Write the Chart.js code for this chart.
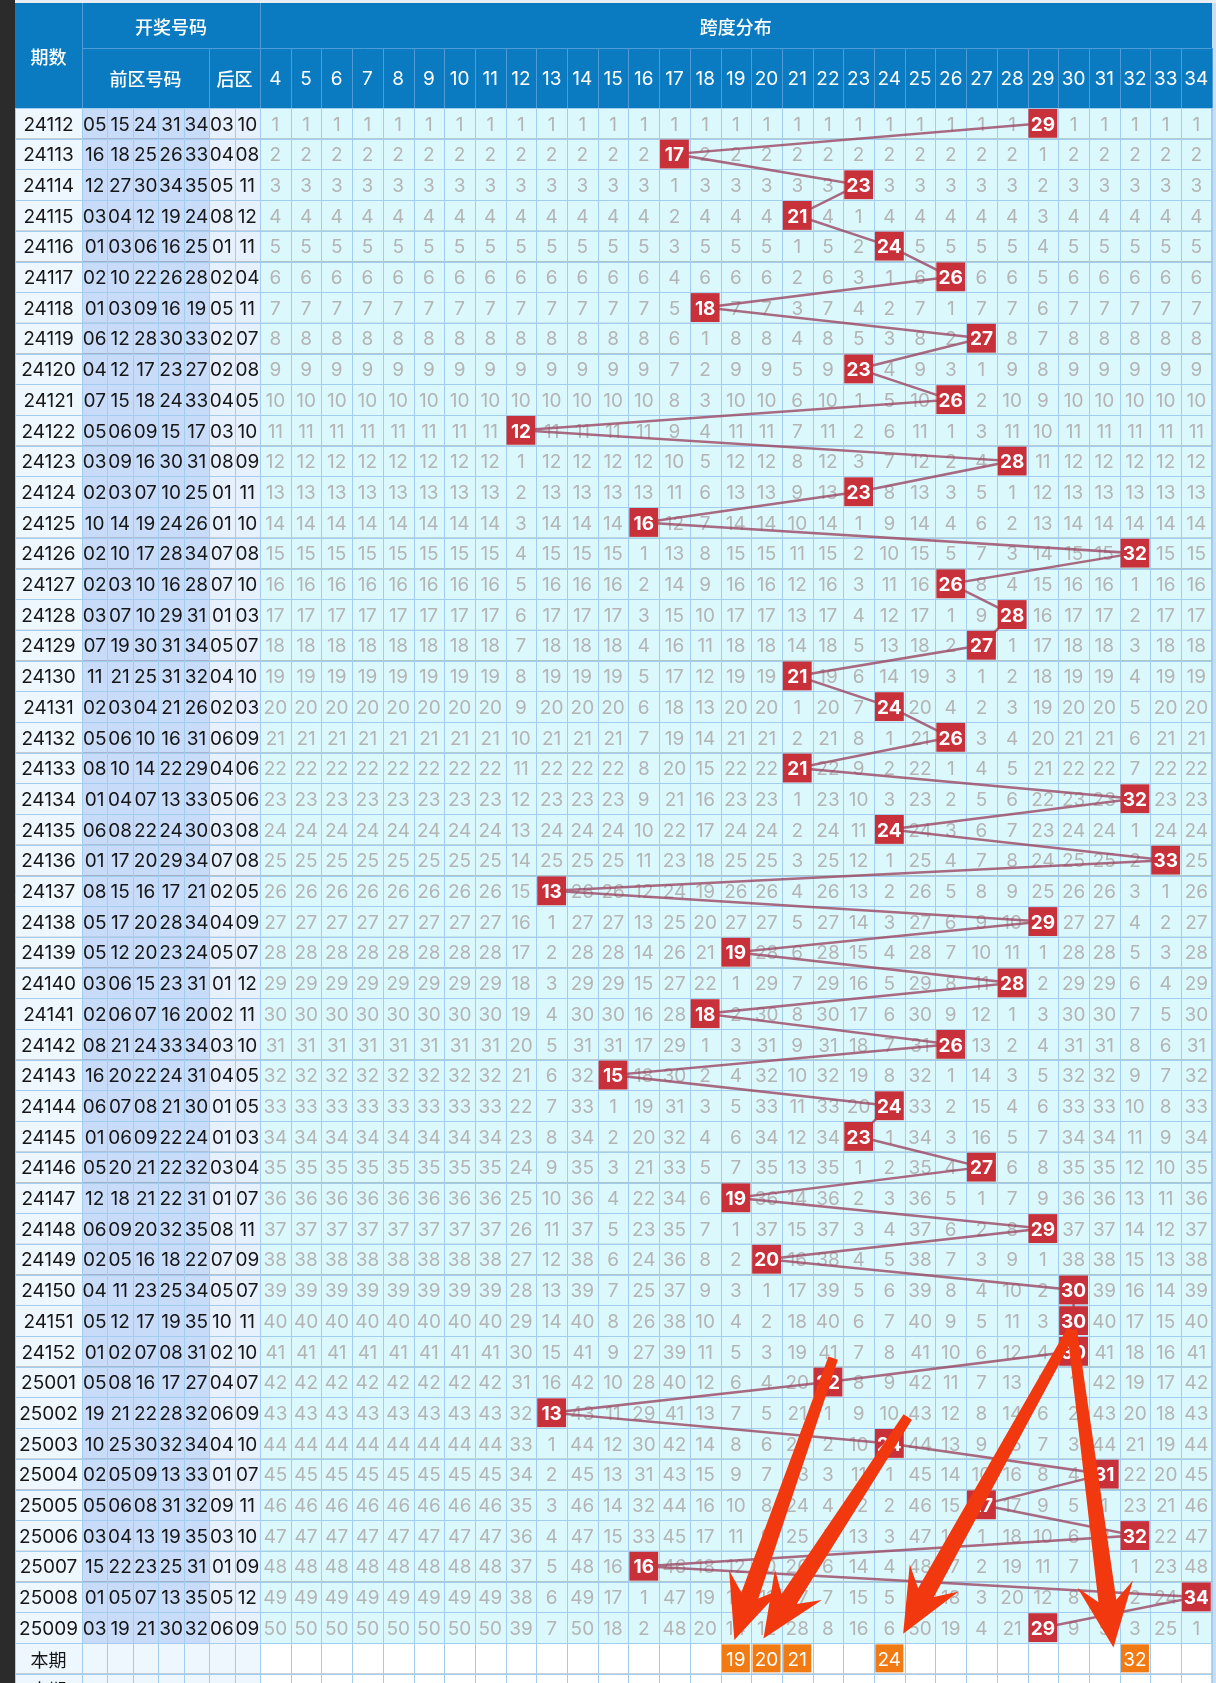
<!DOCTYPE html>
<html>
<head>
<meta charset="utf-8">
<script src="https://cdn.jsdelivr.net/npm/chart.js@4/dist/chart.umd.min.js"></script>
<style>
html, body { margin: 0; padding: 0; background: #2b2b2b; }
#wrap { width: 1216px; height: 1683px; }
</style>
</head>
<body>
<div id="wrap"><canvas id="spanChart" width="1216" height="1683"></canvas></div>
<script>
// 期数
const issues = [
    '24112', '24113', '24114', '24115', '24116', '24117', '24118', '24119', '24120', '24121',
    '24122', '24123', '24124', '24125', '24126', '24127', '24128', '24129', '24130', '24131',
    '24132', '24133', '24134', '24135', '24136', '24137', '24138', '24139', '24140', '24141',
    '24142', '24143', '24144', '24145', '24146', '24147', '24148', '24149', '24150', '24151',
    '24152', '25001', '25002', '25003', '25004', '25005', '25006', '25007', '25008', '25009'
];

// 前区号码
const frontNumbers = [
    [5, 15, 24, 31, 34], [16, 18, 25, 26, 33], [12, 27, 30, 34, 35], [3, 4, 12, 19, 24], [1, 3, 6, 16, 25],
    [2, 10, 22, 26, 28], [1, 3, 9, 16, 19], [6, 12, 28, 30, 33], [4, 12, 17, 23, 27], [7, 15, 18, 24, 33],
    [5, 6, 9, 15, 17], [3, 9, 16, 30, 31], [2, 3, 7, 10, 25], [10, 14, 19, 24, 26], [2, 10, 17, 28, 34],
    [2, 3, 10, 16, 28], [3, 7, 10, 29, 31], [7, 19, 30, 31, 34], [11, 21, 25, 31, 32], [2, 3, 4, 21, 26],
    [5, 6, 10, 16, 31], [8, 10, 14, 22, 29], [1, 4, 7, 13, 33], [6, 8, 22, 24, 30], [1, 17, 20, 29, 34],
    [8, 15, 16, 17, 21], [5, 17, 20, 28, 34], [5, 12, 20, 23, 24], [3, 6, 15, 23, 31], [2, 6, 7, 16, 20],
    [8, 21, 24, 33, 34], [16, 20, 22, 24, 31], [6, 7, 8, 21, 30], [1, 6, 9, 22, 24], [5, 20, 21, 22, 32],
    [12, 18, 21, 22, 31], [6, 9, 20, 32, 35], [2, 5, 16, 18, 22], [4, 11, 23, 25, 34], [5, 12, 17, 19, 35],
    [1, 2, 7, 8, 31], [5, 8, 16, 17, 27], [19, 21, 22, 28, 32], [10, 25, 30, 32, 34], [2, 5, 9, 13, 33],
    [5, 6, 8, 31, 32], [3, 4, 13, 19, 35], [15, 22, 23, 25, 31], [1, 5, 7, 13, 35], [3, 19, 21, 30, 32]
];

// 后区号码
const backNumbers = [
    [3, 10], [4, 8], [5, 11], [8, 12], [1, 11], [2, 4], [5, 11], [2, 7], [2, 8], [4, 5],
    [3, 10], [8, 9], [1, 11], [1, 10], [7, 8], [7, 10], [1, 3], [5, 7], [4, 10], [2, 3],
    [6, 9], [4, 6], [5, 6], [3, 8], [7, 8], [2, 5], [4, 9], [5, 7], [1, 12], [2, 11],
    [3, 10], [4, 5], [1, 5], [1, 3], [3, 4], [1, 7], [8, 11], [7, 9], [5, 7], [10, 11],
    [2, 10], [4, 7], [6, 9], [4, 10], [1, 7], [9, 11], [3, 10], [1, 9], [5, 12], [6, 9]
];

// 跨度
const spans = [
    29, 17, 23, 21, 24, 26, 18, 27, 23, 26,
    12, 28, 23, 16, 32, 26, 28, 27, 21, 24,
    26, 21, 32, 24, 33, 13, 29, 19, 28, 18,
    26, 15, 24, 23, 27, 19, 29, 20, 30, 30,
    30, 22, 13, 24, 31, 27, 32, 16, 34, 29
];

// 跨度分布の列
const spanColumns = [4, 5, 6, 7, 8, 9, 10, 11, 12, 13, 14, 15, 16, 17, 18, 19, 20, 21, 22, 23, 24, 25, 26, 27, 28, 29, 30, 31, 32, 33, 34];

// 本期の選択
const currentPicks = [19, 20, 21, 24, 32];
const footerRows = ['本期', '本期'];

// 遗漏値 (前回出現からの期数)
const misses = [];
const lastHit = {};
spans.forEach((s, i) => {
    misses.push(spanColumns.map(c => (c === s ? null : i - (c in lastHit ? lastHit[c] : -1))));
    lastHit[s] = i;
});

// レイアウト (1単位 = 跨度列の幅)
const CELL = 30.7;
const NUM_U = 25.43 / CELL;
const ISSUE_U = 67 / CELL;
const LEFT_MARGIN_U = 15 / CELL;
const HEAD1_U = 45 / CELL;
const HEAD2_U = 60 / CELL;
const TOP_U = 3 / CELL;
const X_MIN = spanColumns[0] - 0.5 - 7 * NUM_U - ISSUE_U - LEFT_MARGIN_U;
const X_MAX = X_MIN + 1216 / CELL;
const Y_MIN = -0.5 - HEAD2_U - HEAD1_U - TOP_U;
const Y_MAX = Y_MIN + 1683 / CELL;
const TEXT_DY = 1.5;

// 注釈の矢印 (列, 行)
const arrows = [
    { from: [22.17, 40.22], to: [18.95, 49.4] },
    { from: [24.6, 42.14], to: [19.9, 49.35] },
    { from: [29.95, 39.3], to: [24.45, 49.2] },
    { from: [29.95, 39.3], to: [31.3, 49.65] }
];

const pad = n => String(n).padStart(2, '0');
const DIGIT_FONT = 'Inter, Roboto, sans-serif';
const CJK_FONT = '"Noto Sans CJK SC", sans-serif';

const tablePlugin = {
    id: 'lotteryTable',
    beforeDatasetsDraw(chart) {
        const ctx = chart.ctx;
        const X = v => chart.scales.x.getPixelForValue(v);
        const Y = v => chart.scales.y.getPixelForValue(v);
        const T = v => Y(v) + TEXT_DY;
        const spanLeft = spanColumns[0] - 0.5;
        const spanRight = spanColumns[spanColumns.length - 1] + 0.5;
        const numEdges = [];
        for (let k = 0; k <= 7; k++) numEdges.push(spanLeft - (7 - k) * NUM_U);
        const issueLeft = numEdges[0] - ISSUE_U;
        const headTop = -0.5 - HEAD2_U - HEAD1_U;
        const headMid = -0.5 - HEAD2_U;
        const rowsTotal = issues.length + footerRows.length;

        ctx.save();
        // 外側
        ctx.fillStyle = '#e8eef4';
        ctx.fillRect(X(issueLeft), 0, chart.width, Y(headTop));
        ctx.fillStyle = '#c9def2';
        ctx.fillRect(X(spanRight), Y(headTop), chart.width - X(spanRight), chart.height);
        ctx.fillStyle = '#2b2b2b';
        ctx.fillRect(0, 0, X(issueLeft), chart.height);

        // ヘッダー
        ctx.fillStyle = '#0a7bc0';
        ctx.fillRect(X(issueLeft), Y(headTop), X(spanRight) - X(issueLeft), Y(-0.5) - Y(headTop));

        // 行の背景
        for (let r = 0; r < rowsTotal; r++) {
            const top = Y(r - 0.5), h = Y(r + 0.5) - top;
            const footer = r >= issues.length;
            ctx.fillStyle = '#eef6fe';
            ctx.fillRect(X(issueLeft), top, X(numEdges[0]) - X(issueLeft), h);
            ctx.fillStyle = footer ? '#eef6fe' : '#c8dbf8';
            ctx.fillRect(X(numEdges[0]), top, X(numEdges[5]) - X(numEdges[0]), h);
            ctx.fillStyle = footer ? '#eef6fe' : '#e7f1fd';
            ctx.fillRect(X(numEdges[5]), top, X(numEdges[7]) - X(numEdges[5]), h);
            ctx.fillStyle = footer ? '#ffffff' : '#dbf8fd';
            ctx.fillRect(X(spanLeft), top, X(spanRight) - X(spanLeft), h);
        }

        // 罫線 (本体)
        ctx.strokeStyle = '#a3cdef';
        ctx.lineWidth = 1;
        ctx.beginPath();
        for (let r = 0; r <= rowsTotal; r++) {
            const y = Math.round(Y(r - 0.5)) + 0.5;
            ctx.moveTo(X(issueLeft), y);
            ctx.lineTo(X(spanRight), y);
        }
        const bodyX = [issueLeft, ...numEdges, ...spanColumns.map(c => c + 0.5)];
        bodyX.forEach(v => {
            const x = Math.round(X(v)) + 0.5;
            ctx.moveTo(x, Y(-0.5));
            ctx.lineTo(x, chart.height);
        });
        ctx.stroke();

        // 罫線 (ヘッダー)
        ctx.strokeStyle = '#4f9bd6';
        ctx.beginPath();
        const hl = Math.round(Y(headMid)) + 0.5;
        ctx.moveTo(X(numEdges[0]), hl);
        ctx.lineTo(X(spanRight), hl);
        [numEdges[0], spanLeft].forEach(v => {
            const x = Math.round(X(v)) + 0.5;
            ctx.moveTo(x, Y(headTop));
            ctx.lineTo(x, Y(-0.5));
        });
        [numEdges[5], ...spanColumns.map(c => c + 0.5)].forEach(v => {
            const x = Math.round(X(v)) + 0.5;
            ctx.moveTo(x, Y(headMid));
            ctx.lineTo(x, Y(-0.5));
        });
        ctx.stroke();

        // ヘッダー文字
        ctx.fillStyle = '#ffffff';
        ctx.textAlign = 'center';
        ctx.textBaseline = 'middle';
        ctx.font = '500 18px ' + CJK_FONT;
        ctx.fillText('期数', X((issueLeft + numEdges[0]) / 2), T((headTop - 0.5) / 2));
        ctx.fillText('开奖号码', X((numEdges[0] + spanLeft) / 2), T((headTop + headMid) / 2));
        ctx.fillText('跨度分布', X((spanLeft + spanRight) / 2), T((headTop + headMid) / 2));
        ctx.fillText('前区号码', X((numEdges[0] + numEdges[5]) / 2), T((headMid - 0.5) / 2));
        ctx.fillText('后区', X((numEdges[5] + numEdges[7]) / 2), T((headMid - 0.5) / 2));
        ctx.font = '19px ' + DIGIT_FONT;
        spanColumns.forEach(c => ctx.fillText(String(c), X(c), T((headMid - 0.5) / 2)));

        // 期数・号码
        ctx.font = '19px ' + DIGIT_FONT;
        ctx.fillStyle = '#161616';
        issues.forEach((iss, r) => {
            const y = T(r);
            ctx.fillText(iss, X((issueLeft + numEdges[0]) / 2), y);
            frontNumbers[r].forEach((n, k) => ctx.fillText(pad(n), X((numEdges[k] + numEdges[k + 1]) / 2), y));
            backNumbers[r].forEach((n, k) => ctx.fillText(pad(n), X((numEdges[k + 5] + numEdges[k + 6]) / 2), y));
        });
        ctx.font = '18px ' + CJK_FONT;
        footerRows.forEach((t, k) => ctx.fillText(t, X((issueLeft + numEdges[0]) / 2), T(issues.length + k)));

        // 遗漏値
        ctx.font = '19px ' + DIGIT_FONT;
        ctx.fillStyle = '#b4b4b4';
        misses.forEach((row, r) => {
            row.forEach((m, k) => {
                if (m !== null) ctx.fillText(String(m), X(spanColumns[k]), T(r));
            });
        });
        ctx.restore();
    },
    afterDatasetsDraw(chart) {
        const ctx = chart.ctx;
        const X = v => chart.scales.x.getPixelForValue(v);
        const Y = v => chart.scales.y.getPixelForValue(v);
        ctx.save();
        ctx.textAlign = 'center';
        ctx.textBaseline = 'middle';
        ctx.fillStyle = '#ffffff';
        ctx.font = 'bold 19px ' + DIGIT_FONT;
        spans.forEach((s, r) => ctx.fillText(String(s), X(s), Y(r) + TEXT_DY));
        ctx.font = '19px ' + DIGIT_FONT;
        currentPicks.forEach(c => ctx.fillText(String(c), X(c), Y(issues.length) + TEXT_DY));

        // 矢印
        ctx.fillStyle = '#f2380f';
        arrows.forEach(a => {
            const tx = X(a.from[0]), ty = Y(a.from[1]);
            const hx = X(a.to[0]), hy = Y(a.to[1]);
            const len = Math.hypot(hx - tx, hy - ty);
            const dx = (hx - tx) / len, dy = (hy - ty) / len;
            const nx = -dy, ny = dx;
            const headLen = 64, headW = 28, neckBack = 47;
            const w0 = 5, w1 = 9;
            const nkx = hx - dx * neckBack, nky = hy - dy * neckBack;
            const bx = hx - dx * headLen, by = hy - dy * headLen;
            ctx.beginPath();
            ctx.moveTo(tx + nx * w0, ty + ny * w0);
            ctx.lineTo(nkx + nx * w1, nky + ny * w1);
            ctx.lineTo(bx + nx * headW, by + ny * headW);
            ctx.lineTo(hx, hy);
            ctx.lineTo(bx - nx * headW, by - ny * headW);
            ctx.lineTo(nkx - nx * w1, nky - ny * w1);
            ctx.lineTo(tx - nx * w0, ty - ny * w0);
            ctx.closePath();
            ctx.fill();
        });
        ctx.restore();
    }
};

new Chart(document.getElementById('spanChart'), {
    type: 'scatter',
    data: {
        datasets: [
            {
                label: '本期',
                data: currentPicks.map(c => ({ x: c, y: issues.length })),
                pointStyle: 'rect',
                pointRadius: 19.8,
                backgroundColor: '#f27a12',
                borderWidth: 0,
                clip: false,
                order: 0
            },
            {
                label: '跨度',
                data: spans.map((s, r) => ({ x: s, y: r })),
                pointStyle: 'rect',
                pointRadius: 20.4,
                backgroundColor: '#c8303a',
                borderWidth: 0,
                clip: false,
                order: 1
            },
            {
                label: '走势',
                data: spans.map((s, r) => ({ x: s, y: r })),
                showLine: true,
                pointRadius: 0,
                borderColor: 'rgba(155, 70, 98, 0.8)',
                borderWidth: 2.5,
                clip: false,
                order: 2
            }
        ]
    },
    options: {
        responsive: false,
        animation: false,
        devicePixelRatio: 1,
        events: [],
        layout: { autoPadding: false, padding: 0 },
        scales: {
            x: { type: 'linear', display: false, min: X_MIN, max: X_MAX },
            y: { type: 'linear', display: false, reverse: true, min: Y_MIN, max: Y_MAX }
        },
        plugins: {
            legend: { display: false },
            tooltip: { enabled: false }
        }
    },
    plugins: [tablePlugin]
});
</script>
</body>
</html>
